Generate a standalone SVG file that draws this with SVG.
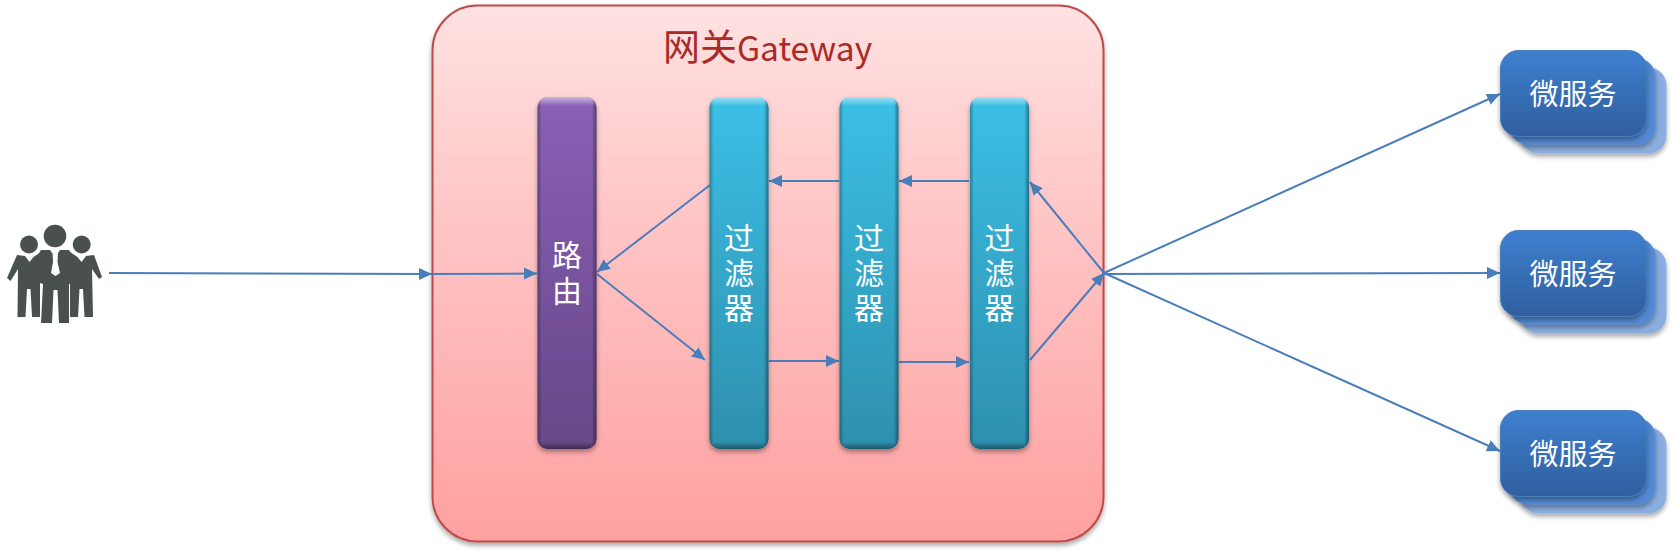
<svg xmlns="http://www.w3.org/2000/svg" width="1674" height="553" viewBox="0 0 1674 553">
<style>
text{font-family:"Noto Sans CJK SC","Noto Sans",sans-serif}
.t{fill:#fff;font-size:30px;text-anchor:middle}
.v{writing-mode:vertical-rl;letter-spacing:5px}
.c{fill:none;stroke:#4a7ebb;stroke-width:2;marker-end:url(#a)}
.p{fill:#4a5050}
</style>
<defs>
<marker id="a" markerUnits="userSpaceOnUse" markerWidth="14" markerHeight="14" refX="13" refY="7" orient="auto"><path d="M0 1L13 7L0 13z" fill="#4a7ebb"/></marker>
<linearGradient id="g" x1="0" y1="0" x2="0" y2="1"><stop offset="0" stop-color="#ffe2e2"/><stop offset="0.3" stop-color="#ffcccc"/><stop offset="1" stop-color="#ffa0a0"/></linearGradient>
<linearGradient id="pu" x1="0" y1="0" x2="0" y2="1"><stop offset="0" stop-color="#8a60b6"/><stop offset="1" stop-color="#674788"/></linearGradient>
<linearGradient id="cy" x1="0" y1="0" x2="0" y2="1"><stop offset="0" stop-color="#3bc0e6"/><stop offset="1" stop-color="#2e8fad"/></linearGradient>
<linearGradient id="bl" x1="0" y1="0" x2="0" y2="1"><stop offset="0" stop-color="#3e7fcf"/><stop offset="1" stop-color="#2f5f9e"/></linearGradient>
<linearGradient id="eh" x1="0" y1="0" x2="1" y2="0"><stop offset="0" stop-color="#000" stop-opacity=".3"/><stop offset=".07" stop-color="#000" stop-opacity="0"/><stop offset=".92" stop-color="#000" stop-opacity="0"/><stop offset="1" stop-color="#000" stop-opacity=".4"/></linearGradient>
<linearGradient id="ev" x1="0" y1="0" x2="0" y2="1"><stop offset="0" stop-color="#fff" stop-opacity=".55"/><stop offset=".025" stop-color="#fff" stop-opacity="0"/><stop offset=".98" stop-color="#000" stop-opacity="0"/><stop offset="1" stop-color="#000" stop-opacity=".4"/></linearGradient>
<filter id="s" x="-10%" y="-10%" width="120%" height="120%"><feDropShadow dx="0" dy="3" stdDeviation="2.500" flood-color="#000" flood-opacity=".35"/></filter>
<g id="bar"><rect width="59" height="352" rx="10" fill="url(#eh)"/><rect width="59" height="352" rx="10" fill="url(#ev)"/></g>
<g id="ms">
<rect x="20" y="17" width="146" height="86" rx="18" fill="#8aaee0" filter="url(#s)"/>
<rect x="9" y="8" width="146" height="86" rx="18" fill="#5289d2" filter="url(#s)"/>
<rect width="146" height="86" rx="18" fill="url(#bl)" stroke="#4a7ebb" stroke-width="1" filter="url(#s)"/>
<text class="t" x="72.500" y="54" font-size="29" style="font-size:29px">微服务</text>
</g>
</defs>
<rect width="1674" height="553" fill="#fff"/>
<g id="gateway">
<rect x="432.500" y="5.500" width="671" height="536" rx="45" fill="url(#g)" stroke="#be4b48" stroke-width="2" filter="url(#s)"/>
<text x="663" y="61" font-size="37" fill="#a92a27">网关<tspan font-size="33.500">Gateway</tspan></text>
</g>
<g id="users">
<circle class="p" cx="55" cy="236" r="11.300"/><circle class="p" cx="29" cy="244.500" r="9"/><circle class="p" cx="81.700" cy="244.500" r="9"/>
<path class="p" d="M17 255L25 256L29.500 262L33.500 257L41 252L44 258L44 282L40 282L40 317L32 317L30.500 289L27 289L25.500 317L17.500 317L18 269L10.500 281L7 278z"/>
<path class="p" d="M94 255L86 256L81.500 262L77.500 257L70 252L67 258L67 282L70 282L70 317L78 317L79.500 289L83 289L84.500 317L93 317L92 269L99 279L102 277z"/>
<path class="p" d="M41 250L50 250L52 253L58 253L60 250L69 250L74 258L72 283L69 284L69 323L59 323L57.500 290L53.500 290L52 323L41 323L43 284L40 283L36 258z"/>
<path fill="#fff" d="M52.500 252L58 252L57.500 262L60 273L55.500 276L51 273L53 262z"/>
</g>
<g id="connectors">
<path class="c" d="M109 273L432 274"/>
<path class="c" d="M432 274L537 273.500"/>
<path class="c" d="M710 185L597 272"/>
<path class="c" d="M597 274L705 360"/>
<path class="c" d="M769 361L839 361"/>
<path class="c" d="M899 362L969 362"/>
<path class="c" d="M839 181L769 181"/>
<path class="c" d="M969 181L899 181"/>
<path class="c" d="M1104 273L1030 182"/>
<path class="c" d="M1030 360L1104 273"/>
<path class="c" d="M1104 273L1500 94"/>
<path class="c" d="M1104 274L1500 273"/>
<path class="c" d="M1104 273L1500 451"/>
</g>
<g id="router"><rect x="537.500" y="97" width="59" height="352" rx="10" fill="url(#pu)" filter="url(#s)"/><use href="#bar" x="537.500" y="97"/><text class="t v" x="567" y="276" style="letter-spacing:6px">路由</text></g>
<g id="filter1"><rect x="709.500" y="97" width="59" height="352" rx="10" fill="url(#cy)" filter="url(#s)"/><use href="#bar" x="709.500" y="97"/><text class="t v" x="739" y="275.500">过滤器</text></g>
<g id="filter2"><rect x="839.500" y="97" width="59" height="352" rx="10" fill="url(#cy)" filter="url(#s)"/><use href="#bar" x="839.500" y="97"/><text class="t v" x="869" y="275.500">过滤器</text></g>
<g id="filter3"><rect x="970" y="97" width="59" height="352" rx="10" fill="url(#cy)" filter="url(#s)"/><use href="#bar" x="970" y="97"/><text class="t v" x="999.500" y="275.500">过滤器</text></g>
<g id="service1"><use href="#ms" x="1500.500" y="50.500"/></g>
<g id="service2"><use href="#ms" x="1500.500" y="230.500"/></g>
<g id="service3"><use href="#ms" x="1500.500" y="410.500"/></g>
</svg>
